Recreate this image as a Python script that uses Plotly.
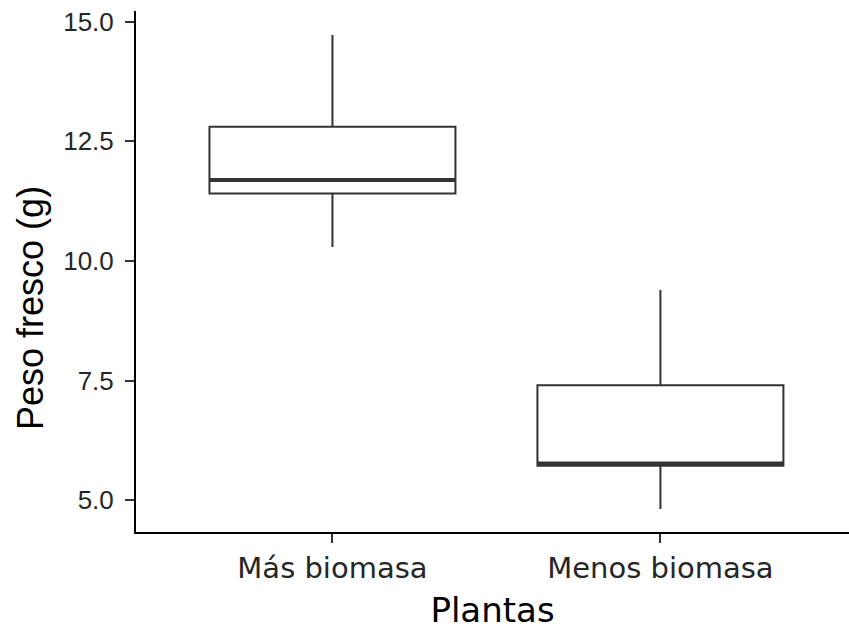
import plotly.graph_objects as go

# Five-number summaries of fresh weight per plant group
categorias = ["Más biomasa", "Menos biomasa"]
bigote_inf = [10.29, 4.82]
q1 = [11.41, 5.72]
mediana = [11.69, 5.77]
q3 = [12.80, 7.40]
bigote_sup = [14.72, 9.39]

y_ticks = [5.0, 7.5, 10.0, 12.5, 15.0]
y_ticktext = ["5.0", "7.5", "10.0", "12.5", "15.0"]

box_width = 0.75
line_col = "#333333"

fig = go.Figure()
for i, cat in enumerate(categorias):
    fig.add_trace(go.Box(
        x=[cat],
        q1=[q1[i]], median=[mediana[i]], q3=[q3[i]],
        lowerfence=[bigote_inf[i]], upperfence=[bigote_sup[i]],
        width=box_width,
        whiskerwidth=0,
        fillcolor="white",
        line=dict(color=line_col, width=2),
        boxpoints=False,
        showlegend=False,
        hoverinfo="skip",
    ))
    # thicker median bar, as in ggplot's default fatten
    fig.add_shape(
        type="line", xref="x", yref="y",
        x0=i - box_width / 2, x1=i + box_width / 2,
        y0=mediana[i], y1=mediana[i],
        line=dict(color=line_col, width=4),
    )

# y-axis title, drawn as a rotated annotation
fig.add_annotation(
    text="Peso fresco (g)", textangle=-90,
    xref="paper", yref="paper", x=0, y=0.43,
    xanchor="center", yanchor="middle", xshift=-105,
    showarrow=False,
    font=dict(family="Liberation Sans", size=36, color="black"),
)

fig.update_layout(
    width=849, height=630,
    margin=dict(l=136, r=0, t=11, b=98),
    plot_bgcolor="white", paper_bgcolor="white",
    xaxis=dict(
        type="category",
        categoryorder="array", categoryarray=categorias,
        range=[-0.599, 1.575],
        showgrid=False, zeroline=False,
        showline=True, linecolor="black", linewidth=2,
        ticks="outside", ticklen=9, tickwidth=2, tickcolor=line_col,
        tickfont=dict(family="DejaVu Sans", size=29, color="#262626"),
        title=dict(text="Plantas", font=dict(family="DejaVu Sans", size=34, color="black"), standoff=16),
    ),
    yaxis=dict(
        range=[4.337, 15.22],
        tickvals=y_ticks, ticktext=y_ticktext,
        showgrid=False, zeroline=False,
        showline=True, linecolor="black", linewidth=2,
        ticks="outside", ticklen=9, tickwidth=2, tickcolor=line_col,
        ticklabelstandoff=6,
        tickfont=dict(family="Liberation Sans", size=26, color="#262626"),
    ),
)

fig.write_html("out.html")
